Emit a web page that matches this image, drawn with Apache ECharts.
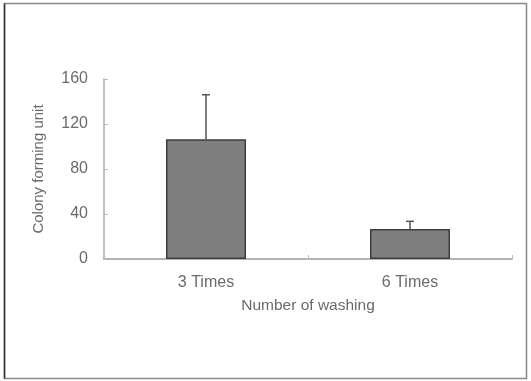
<!DOCTYPE html>
<html>
<head>
<meta charset="utf-8">
<script src="https://cdn.jsdelivr.net/npm/echarts@6/dist/echarts.min.js"></script>
<style>
html,body{margin:0;padding:0;background:#fff;}
#c{width:531px;height:381px;}
</style>
</head>
<body>
<div id="c"></div>
<script>
var categories = ['3 Times', '6 Times'];
var means = [106.5, 26.7];
var errTop = [146, 33.5];
var yTicks = [0, 40, 80, 120, 160];

var chart = echarts.init(document.getElementById('c'), null, {renderer: 'canvas'});
var txt = '#6a6a6a';
var font = 'Liberation Sans, Arial, sans-serif';
var errData = categories.map(function (c, i) { return [i, means[i], errTop[i]]; });

chart.setOption({
  backgroundColor: '#fff',
  animation: false,
  graphic: [
    {type: 'rect', shape: {x: 4.5, y: 3.5, width: 522, height: 375}, style: {fill: 'none', stroke: '#888', lineWidth: 1.5}},
    {type: 'line', shape: {x1: 4.5, y1: 3.5, x2: 4.5, y2: 378.5}, style: {stroke: '#333', lineWidth: 1.5}}
  ],
  grid: {left: 104, right: 19, top: 79, bottom: 122, containLabel: false},
  xAxis: {
    type: 'category',
    data: categories,
    name: 'Number of washing',
    nameLocation: 'middle',
    nameGap: 39,
    nameTextStyle: {color: txt, fontSize: 15.5, fontFamily: font},
    axisLine: {lineStyle: {color: '#999', width: 1.5}},
    axisTick: {show: true, inside: true, length: 4, lineStyle: {color: '#bbb'}},
    axisLabel: {color: txt, fontSize: 16, fontFamily: font, margin: 16}
  },
  yAxis: {
    type: 'value',
    min: 0, max: 160, interval: 40,
    name: 'Colony forming unit',
    nameLocation: 'middle',
    nameGap: 58,
    nameTextStyle: {color: txt, fontSize: 15, fontFamily: font},
    axisLine: {show: true, lineStyle: {color: '#aaa', width: 1.5}},
    axisTick: {show: true, inside: true, length: 4, lineStyle: {color: '#bbb'}},
    splitLine: {show: false},
    axisLabel: {color: txt, fontSize: 16, fontFamily: font, margin: 16,
      formatter: function (v) { return yTicks.indexOf(v) >= 0 ? String(v) : ''; }}
  },
  series: [
    {
      type: 'bar',
      data: means,
      barWidth: 80,
      itemStyle: {color: '#7f7f7f', borderColor: '#3d3d3d', borderWidth: 1.5}
    },
    {
      type: 'custom',
      data: errData,
      z: 10,
      renderItem: function (params, api) {
        var base = api.coord([api.value(0), api.value(1)]);
        var top = api.coord([api.value(0), api.value(2)]);
        var hw = 4;
        var st = {stroke: '#555', lineWidth: 1.5};
        return {
          type: 'group',
          children: [
            {type: 'line', shape: {x1: base[0], y1: base[1], x2: top[0], y2: top[1]}, style: st},
            {type: 'line', shape: {x1: top[0] - hw, y1: top[1], x2: top[0] + hw, y2: top[1]}, style: st}
          ]
        };
      }
    }
  ]
});
</script>
</body>
</html>
